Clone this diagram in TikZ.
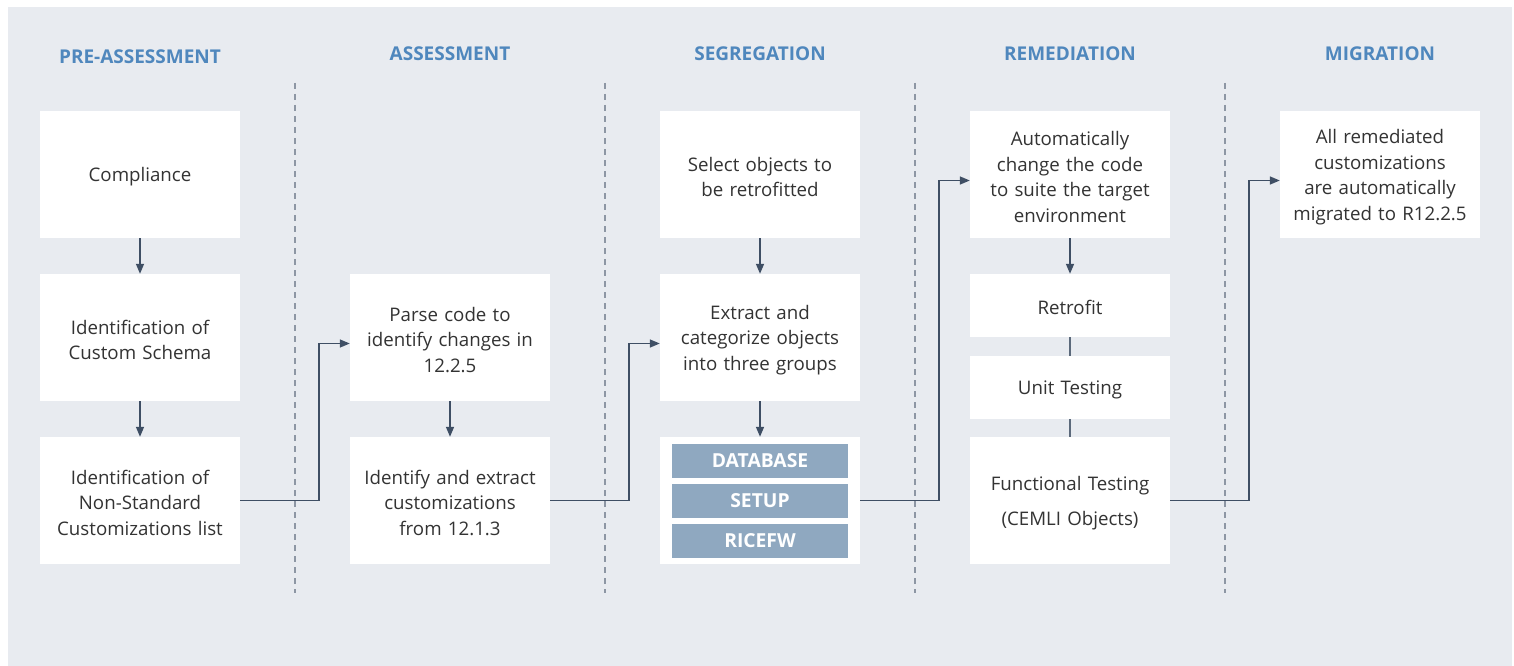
\documentclass[tikz,border=0pt]{standalone}
\usepackage{fontspec}
\setmainfont{Open Sans}
\usetikzlibrary{arrows.meta}
\definecolor{panel}{HTML}{E8EBF0}
\definecolor{head}{HTML}{4F87BD}
\definecolor{txt}{HTML}{333333}
\definecolor{arrowc}{HTML}{3E4E64}
\definecolor{sep}{HTML}{8D96A4}
\definecolor{bar}{HTML}{8FA8C0}
\tikzset{
  box/.style={fill=white, draw=none, minimum width=200pt, text width=196pt, align=center,
    font=\fontsize{18.7pt}{25.5pt}\selectfont, text=txt, inner sep=0pt, text height=19pt},
  tall/.style={minimum height=127pt},
  short/.style={minimum height=63pt},
  header/.style={font=\fontsize{19pt}{22pt}\selectfont\bfseries, text=head, inner sep=0pt},
  bartag/.style={fill=bar, minimum width=176pt, minimum height=34pt, inner sep=0pt,
    font=\fontsize{19.3pt}{20pt}\selectfont\bfseries, text=white},
  arr/.style={draw=arrowc, line width=1.5pt, -{Triangle[length=10pt,width=8pt]}},
  link/.style={draw=arrowc!85, line width=2pt},
  sepline/.style={draw=sep, line width=1.8pt, dash pattern=on 6pt off 5pt}
}
\begin{document}
\begin{tikzpicture}[x=1pt,y=-1pt]
\useasboundingbox (0,0) rectangle (1514,666);
\fill[panel] (8,7) rectangle (1512,666);

% headers
\node[header] (h1) at (140,56.5) {PRE-ASSESSMENT};
\node[header] (h2) at (450,53.5) {ASSESSMENT};
\node[header] (h3) at (760,53.5) {SEGREGATION};
\node[header] (h4) at (1070,53.5) {REMEDIATION};
\node[header] (h5) at (1380,53.5) {MIGRATION};

% separators
\foreach \x/\n in {295/s1,605/s2,915/s3,1225/s4}{
  \coordinate (\n t) at (\x,83);
  \coordinate (\n b) at (\x,593);
  \draw[sepline] (\n t) -- (\n b);
}

% column 1
\node[box,tall] (c1a) at (140,174.5) {Compliance};
\node[box,tall] (c1b) at (140,337.5) {Identification of\\Custom Schema};
\node[box,tall] (c1c) at (140,500.5) {Identification of\\Non-Standard\\Customizations list};
% column 2
\node[box,tall] (c2a) at (450,337.5) {Parse code to\\identify changes in\\12.2.5};
\node[box,tall] (c2b) at (450,500.5) {Identify and extract\\customizations\\from 12.1.3};
% column 3
\node[box,tall] (c3a) at (760,174.5) {Select objects to\\be retrofitted};
\node[box,tall] (c3b) at (760,337.5) {Extract and\\categorize objects\\into three groups};
\node[fill=white, minimum width=200pt, minimum height=127pt, inner sep=0pt] (c3c) at (760,500.5) {};
\node[bartag] (db) at (760,461) {DATABASE};
\node[bartag] (su) at (760,501) {SETUP};
\node[bartag] (ri) at (760,540.5) {RICEFW};
% column 4
\node[box,tall] (c4a) at (1070,174.5) {Automatically\\change the code\\to suite the target\\environment};
\node[box,short] (c4b) at (1070,305.5) {Retrofit};
\node[box,short] (c4c) at (1070,387.5) {Unit Testing};
\node[box,tall] (c4d) at (1070,500.5) {Functional Testing\\[9pt](CEMLI Objects)};
% column 5
\node[box,tall] (c5a) at (1380,174.5) {All remediated\\customizations\\are automatically\\migrated to R12.2.5};

% vertical arrows
\draw[arr] (c1a.south) -- (c1b.north);
\draw[arr] (c1b.south) -- (c1c.north);
\draw[arr] (c2a.south) -- (c2b.north);
\draw[arr] (c3a.south) -- (c3b.north);
\draw[arr] (c3b.south) -- (c3c.north);
\draw[arr] (c4a.south) -- (c4b.north);
\draw[link] (c4b.south) -- (c4c.north);
\draw[link] (c4c.south) -- (c4d.north);

% cross-column connectors
\draw[arr] (c1c.east) -- ++(79,0) |- ([yshift=-6pt]c2a.west);
\draw[arr] (c2b.east) -- ++(79,0) |- ([yshift=-6pt]c3b.west);
\draw[arr] (c3c.east) -- ++(79,0) |- ([yshift=-6pt]c4a.west);
\draw[arr] (c4d.east) -- ++(79,0) |- ([yshift=-6pt]c5a.west);
\end{tikzpicture}
\end{document}
